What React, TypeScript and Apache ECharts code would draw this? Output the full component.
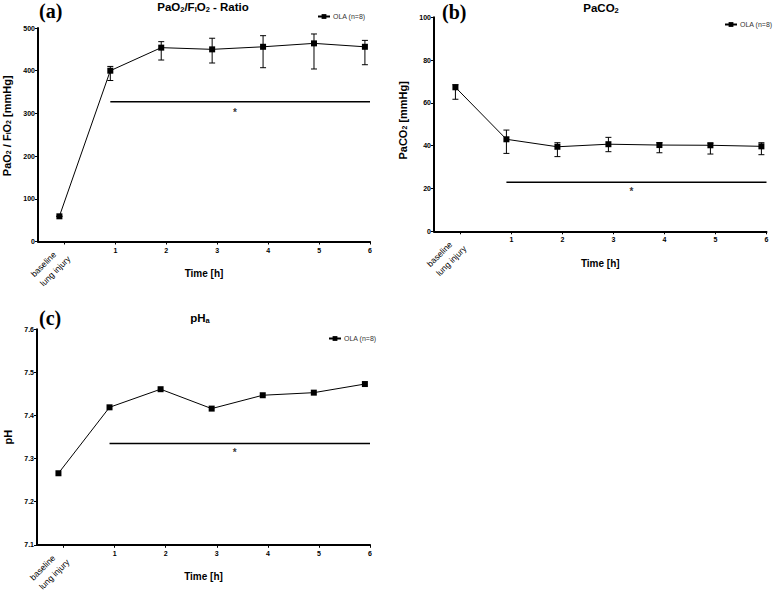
import React, { useEffect, useRef } from "react";
import * as echarts from "echarts";

// ---- data ----
const timeX = [-0.1, 0.9, 1.9, 2.9, 3.9, 4.9, 5.9];
const tickValues = [0, 1, 2, 3, 4, 5, 6];
const baselineLines = ["baseline", "lung injury"];
const seriesName = "OLA (n=8)";

const pfMean = [59, 400, 454, 450, 456, 464, 456];
const pfLow = [59, 377, 425, 418, 407, 404, 414];
const pfHigh = [59, 410, 468, 476, 482, 486, 471];

const co2Mean = [67.3, 43.0, 39.5, 40.7, 40.3, 40.2, 39.7];
const co2Low = [61.7, 36.4, 34.9, 37.2, 36.7, 36.1, 35.8];
const co2High = [68.5, 47.3, 41.4, 43.9, 41.4, 41.2, 41.4];

const phMean = [7.266, 7.419, 7.461, 7.416, 7.447, 7.453, 7.473];

const pfRange = [0, 500, 100];
const co2Range = [0, 100, 20];
const phRange = [7.1, 7.6, 0.1];

const sigBarX = [0.9, 6];
const sigStarX = 3.35;
const pfSig = { bar: 327, star: 303 };
const co2Sig = { bar: 22.9, star: 18.5 };
const phSig = { bar: 7.335, star: 7.313 };

const FONT = "'Liberation Sans', Arial, sans-serif";

const errRender = (params: any, api: any) => {
  const x = api.value(0);
  const lo = api.value(1);
  const hi = api.value(2);
  const p1 = api.coord([x, lo]);
  const p2 = api.coord([x, hi]);
  const w = 3;
  const st = { stroke: "#000", lineWidth: 1 };
  return {
    type: "group",
    children: [
      { type: "line", shape: { x1: p1[0], y1: p1[1], x2: p2[0], y2: p2[1] }, style: st },
      { type: "line", shape: { x1: p1[0] - w, y1: p1[1], x2: p1[0] + w, y2: p1[1] }, style: st },
      { type: "line", shape: { x1: p2[0] - w, y1: p2[1], x2: p2[0] + w, y2: p2[1] }, style: st },
    ],
  };
};

// rotated two-line category label at the "baseline" tick
const baselineRender = (params: any, api: any) => {
  const p = api.coord([api.value(0), api.value(1)]);
  const blockW = 39;
  const lh = 13;
  return {
    type: "group",
    x: p[0],
    y: p[1] + 11,
    rotation: Math.PI / 4,
    children: baselineLines.map((t, i) => ({
      type: "text",
      x: -blockW,
      y: (i - 0.5) * lh,
      style: {
        text: t,
        fontFamily: FONT,
        fontSize: 8.5,
        fill: "#000",
        align: "left",
        verticalAlign: "middle",
      },
    })),
  };
};

const subRich = {
  n: { fontFamily: FONT, fontWeight: "bold", fontSize: 11.5, color: "#000" },
  s: { fontFamily: FONT, fontWeight: "bold", fontSize: 7.5, color: "#000", verticalAlign: "bottom", padding: [4, 0, 0, 0] },
};
const nameRich = {
  n: { fontFamily: FONT, fontWeight: "bold", fontSize: 11, color: "#000" },
  s: { fontFamily: FONT, fontWeight: "bold", fontSize: 7, color: "#000", verticalAlign: "bottom", padding: [3, 0, 0, 0] },
};

export default function App() {
  const ref = useRef<HTMLDivElement>(null);
  useEffect(() => {
    if (!ref.current) return;
    const chart = echarts.init(ref.current, undefined, { renderer: "svg" });

    const grids = [
      { left: 37, top: 28, width: 333, height: 213.5 },
      { left: 434, top: 17.3, width: 332.5, height: 214 },
      { left: 37, top: 329.3, width: 333, height: 215.5 },
    ];

    const mainX = (gi: number) => ({
      type: "value",
      gridIndex: gi,
      min: -0.52,
      max: 6,
      position: "bottom",
      name: "Time [h]",
      nameLocation: "middle",
      nameGap: 27,
      nameTextStyle: { fontFamily: FONT, fontWeight: "bold", fontSize: 10, color: "#000" },
      axisLine: { onZero: false, lineStyle: { color: "#000", width: 2 } },
      axisTick: { customValues: tickValues, length: 3, lineStyle: { color: "#000", width: 1 } },
      axisLabel: {
        customValues: tickValues.slice(1),
        fontFamily: FONT,
        fontWeight: "bold",
        fontSize: 7,
        color: "#000",
        margin: 5,
      },
      splitLine: { show: false },
    });
    const yAx = (gi: number, r: number[], name: string, gap: number, pad: number[], fmt?: any) => ({
      type: "value",
      gridIndex: gi,
      min: r[0],
      max: r[1],
      interval: r[2],
      name,
      nameLocation: "middle",
      nameGap: gap,
      nameTextStyle: { fontFamily: FONT, fontWeight: "bold", fontSize: 11, color: "#000", rich: nameRich, padding: pad },
      axisLine: { show: true, onZero: false, lineStyle: { color: "#000", width: 2 } },
      axisTick: { show: true, length: 3, lineStyle: { color: "#000", width: 1 } },
      axisLabel: { fontFamily: FONT, fontWeight: "bold", fontSize: 7, color: "#000", margin: 3, formatter: fmt },
      splitLine: { show: false },
    });

    const baselineSeries = (i: number, yMin: number) => ({
      type: "custom",
      name: "baselineLabel",
      xAxisIndex: i,
      yAxisIndex: i,
      clip: false,
      silent: true,
      data: [[tickValues[0], yMin]],
      renderItem: baselineRender,
      encode: { x: 0, y: 1 },
    });

    const lineSeries = (xi: number, yi: number, vals: number[]) => ({
      type: "line",
      name: seriesName,
      xAxisIndex: xi,
      yAxisIndex: yi,
      data: timeX.map((x, i) => [x, vals[i]]),
      symbol: "rect",
      symbolSize: 6,
      itemStyle: { color: "#000" },
      lineStyle: { color: "#000", width: 1 },
      z: 3,
    });
    const errSeries = (xi: number, yi: number, lo: number[], hi: number[]) => ({
      type: "custom",
      name: "err",
      xAxisIndex: xi,
      yAxisIndex: yi,
      data: timeX.map((x, i) => [x, lo[i], hi[i]]),
      renderItem: errRender,
      encode: { x: 0, y: [1, 2] },
      z: 2,
    });
    const sigSeries = (xi: number, yi: number, sig: { bar: number; star: number }) => [
      {
        type: "line",
        name: "sig",
        xAxisIndex: xi,
        yAxisIndex: yi,
        data: sigBarX.map((x) => [x, sig.bar]),
        symbol: "none",
        lineStyle: { color: "#000", width: 1.5 },
      },
      {
        type: "scatter",
        name: "star",
        xAxisIndex: xi,
        yAxisIndex: yi,
        data: [[sigStarX, sig.star]],
        symbolSize: 1,
        itemStyle: { color: "transparent" },
        label: { show: true, position: "inside", formatter: "*", fontFamily: FONT, fontWeight: "bold", fontSize: 10, color: "#000" },
      },
    ];

    const legendCommon = {
      data: [seriesName],
      orient: "horizontal",
      itemWidth: 12,
      itemHeight: 6,
      itemGap: 4,
      textStyle: { fontFamily: FONT, fontSize: 7, color: "#333", padding: [0, 0, 0, -2] },
      selectedMode: false,
    };

    const titleTS = { fontFamily: FONT, fontWeight: "bold", fontSize: 11.5, color: "#000", rich: subRich };
    const letterTS = { fontFamily: "'Liberation Serif', 'Times New Roman', serif", fontWeight: "bold", fontSize: 20, color: "#000" };

    const option: any = {
      animation: false,
      backgroundColor: "#fff",
      title: [
        { text: "(a)", left: 39, top: 1, padding: 0, textStyle: letterTS },
        { text: "{n|PaO}{s|2}{n|/F}{s|I}{n|O}{s|2}{n| - Ratio}", left: 203, textAlign: "center", top: 1, padding: 0, textStyle: titleTS },
        { text: "(b)", left: 442, top: 2, padding: 0, textStyle: letterTS },
        { text: "{n|PaCO}{s|2}", left: 601, textAlign: "center", top: 2, padding: 0, textStyle: titleTS },
        { text: "(c)", left: 39, top: 308, padding: 0, textStyle: letterTS },
        { text: "{n|pH}{s|a}", left: 200, textAlign: "center", top: 312, padding: 0, textStyle: titleTS },
      ],
      legend: [
        { ...legendCommon, left: 312, top: 8 },
        { ...legendCommon, left: 719, top: 16 },
        { ...legendCommon, left: 323, top: 330 },
      ],
      grid: grids,
      xAxis: [mainX(0), mainX(1), mainX(2)],
      yAxis: [
        yAx(0, pfRange, "{n|PaO}{s|2}{n| / F}{s|I}{n|O}{s|2}{n| [mmHg]}", 26, [0, 0, 0, 18]),
        yAx(1, co2Range, "{n|PaCO}{s|2}{n| [mmHg]}", 26, [0, 0, 0, 8]),
        yAx(2, phRange, "{n|pH}", 24, [0, 0, 0, 0], (v: number) => v.toFixed(1)),
      ],
      series: [
        errSeries(0, 0, pfLow, pfHigh),
        lineSeries(0, 0, pfMean),
        ...sigSeries(0, 0, pfSig),
        baselineSeries(0, pfRange[0]),
        errSeries(1, 1, co2Low, co2High),
        lineSeries(1, 1, co2Mean),
        ...sigSeries(1, 1, co2Sig),
        baselineSeries(1, co2Range[0]),
        lineSeries(2, 2, phMean),
        ...sigSeries(2, 2, phSig),
        baselineSeries(2, phRange[0]),
      ],
    };
    chart.setOption(option);
    return () => chart.dispose();
  }, []);
  return <div ref={ref} style={{ position: "fixed", left: 0, top: 0, width: 773, height: 593, background: "#fff" }} />;
}
